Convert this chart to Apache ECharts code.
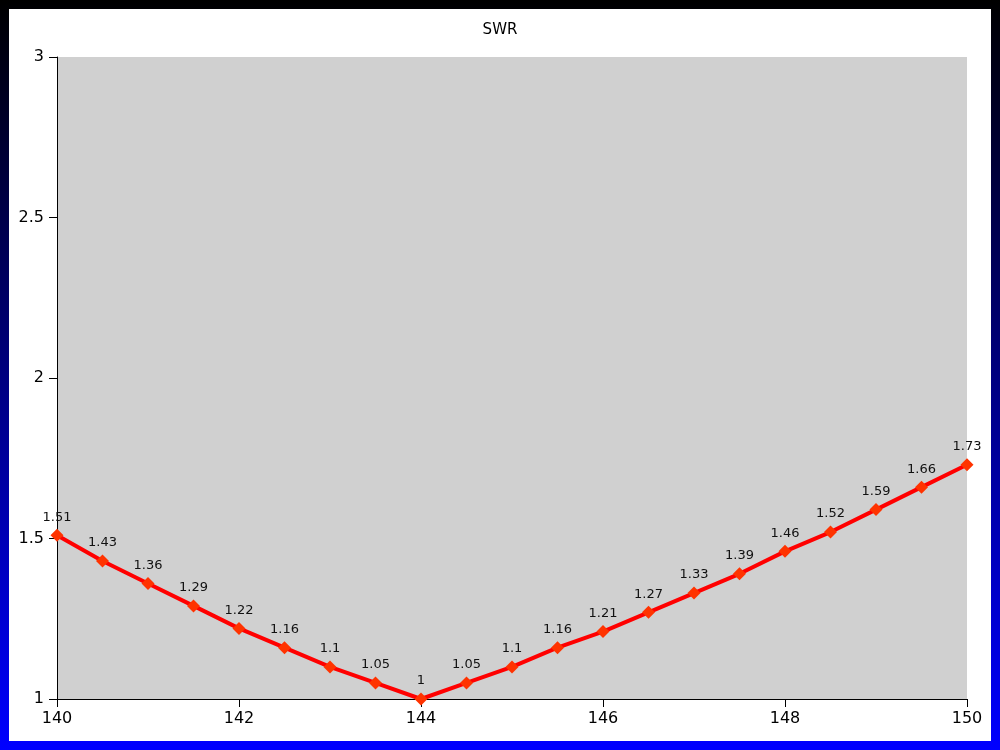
<!DOCTYPE html>
<html><head><meta charset="utf-8">
<script src="https://cdn.jsdelivr.net/npm/echarts@6/dist/echarts.min.js"></script>
<style>
html,body{margin:0;padding:0;width:1000px;height:750px;overflow:hidden;}
body{background:linear-gradient(to bottom,#000000 0%,#0000ff 100%);}
#c{position:absolute;left:9px;top:9px;width:982px;height:732px;background:#ffffff;}
</style></head>
<body><div id="c"></div>
<script>
const titleText = 'SWR';
const freqs = [140,140.5,141,141.5,142,142.5,143,143.5,144,144.5,145,145.5,146,146.5,147,147.5,148,148.5,149,149.5,150];
const swr = [1.51,1.43,1.36,1.29,1.22,1.16,1.1,1.05,1,1.05,1.1,1.16,1.21,1.27,1.33,1.39,1.46,1.52,1.59,1.66,1.73];
const chart = echarts.init(document.getElementById('c'));
const font = 'DejaVu Sans';
chart.setOption({
  animation:false,
  backgroundColor:'#ffffff',
  title:{text:titleText,left:'center',top:9,textStyle:{fontFamily:font,fontSize:15,fontWeight:'normal',color:'#000'}},
  grid:{left:48,right:24,top:48,bottom:42,show:true,backgroundColor:'#d0d0d0',borderWidth:0},
  xAxis:{type:'value',min:140,max:150,interval:2,
    axisLine:{show:true,lineStyle:{color:'#000',width:1}},
    axisTick:{show:true,length:8,lineStyle:{color:'#000'}},
    splitLine:{show:false},
    axisLabel:{fontFamily:font,fontSize:16,color:'#000',margin:12}},
  yAxis:{type:'value',min:1,max:3,interval:0.5,
    axisLine:{show:true,lineStyle:{color:'#000',width:1}},
    axisTick:{show:true,length:8,lineStyle:{color:'#000'}},
    splitLine:{show:false},
    axisLabel:{fontFamily:font,fontSize:16,color:'#000',margin:13,padding:[3,0,0,0]}},
  series:[{type:'line',data:freqs.map((f,i)=>[f,swr[i]]),
    lineStyle:{color:'#ff0000',width:4},
    itemStyle:{color:'#ff3300'},
    symbol:'diamond',symbolSize:13,showAllSymbol:true,
    label:{show:true,position:'top',distance:5,fontFamily:font,fontSize:13,color:'#111',
      formatter:p=>String(p.value[1])}}]
});
</script></body></html>
